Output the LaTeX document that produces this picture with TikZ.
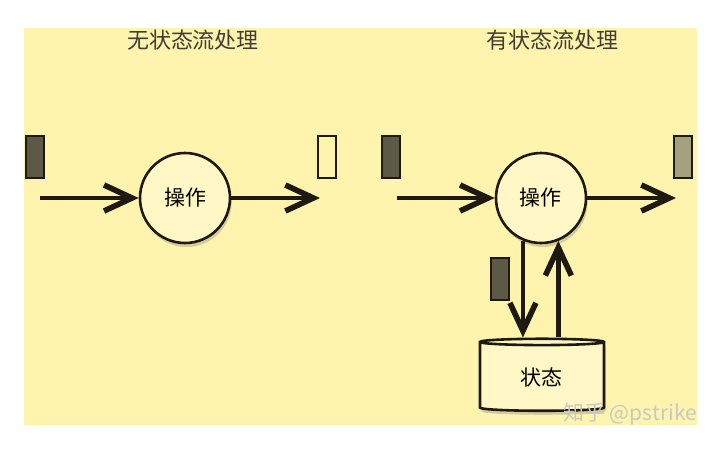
\documentclass[tikz,border=0pt]{standalone}
\usepackage{fontspec}
\setmainfont{Noto Sans CJK SC}
\usetikzlibrary{arrows.meta,shapes.geometric,shadows}
\definecolor{Paper}{HTML}{FEF4AE}
\definecolor{OpFill}{HTML}{FFF8C6}
\definecolor{Ink}{HTML}{1E1A12}
\definecolor{TokDark}{HTML}{5C5A44}
\definecolor{TokLight}{HTML}{A4A27E}
\definecolor{Mark}{HTML}{C9C9C4}

\begin{document}
\begin{tikzpicture}[x=0.5pt,y=-0.5pt,font=\fontsize{10.5}{12}\selectfont,
    op/.style={circle,draw=Ink,line width=1.3pt,fill=OpFill,minimum size=45pt,inner sep=0pt,
               drop shadow={opacity=0.35,shadow xshift=0.8pt,shadow yshift=-2pt}},
    store/.style={cylinder,shape border rotate=90,aspect=0.15,draw=Ink,line width=1.3pt,fill=OpFill,
                  minimum width=62pt,minimum height=36pt,inner sep=0pt,
                  drop shadow={opacity=0.35,shadow xshift=0.8pt,shadow yshift=-2pt}},
    token/.style={draw=Ink,line width=1pt,minimum width=9pt,minimum height=21pt,inner sep=0pt},
    flow/.style={draw=Ink,line width=2.4pt,-{Straight Barb[length=14pt,width=13pt,line width=2.8pt]}},
    title/.style={font=\fontsize{11}{13}\selectfont,text=Ink!85}]
  \useasboundingbox (0,0) rectangle (720,452);
  \fill[white] (0,0) rectangle (720,452);
  \fill[Paper] (24,28) rectangle (697,425);

  % stateless
  \node (ltitle) [title] at (193,40) {无状态流处理};
  \node (lin) [token,fill=TokDark] at (35,157) {};
  \node (lop) [op] at (185,198) {操作};
  \node (lout) [token,fill=Paper] at (327,157) {};
  \coordinate (lsrc) at (40,198);
  \coordinate (ldst) at (320,198);
  \draw[flow] (lsrc) -- (lop);
  \draw[flow] (lop) -- (ldst);

  % stateful
  \node (rtitle) [title] at (553,40) {有状态流处理};
  \node (rin) [token,fill=TokDark] at (391,157) {};
  \node (rop) [op] at (541,198) {操作};
  \node (rout) [token,fill=TokLight] at (683,157) {};
  \node (state) [store] at (542,377) {状态};
  \node (rtok) [token,fill=TokDark] at (500,279) {};
  \coordinate (rsrc) at (397,198);
  \coordinate (rdst) at (676,198);
  \draw[flow] (rsrc) -- (rop);
  \draw[flow] (rop) -- (rdst);
  \draw[flow] (rop.-113) -- (rop.-113 |- state.north);
  \draw[flow] (rop.-68 |- state.north) -- (rop.-68);

  \node (mark) [text=Mark,font=\fontsize{10.5}{12}\selectfont] at (630,414) {知乎 @pstrike};
\end{tikzpicture}
\end{document}
